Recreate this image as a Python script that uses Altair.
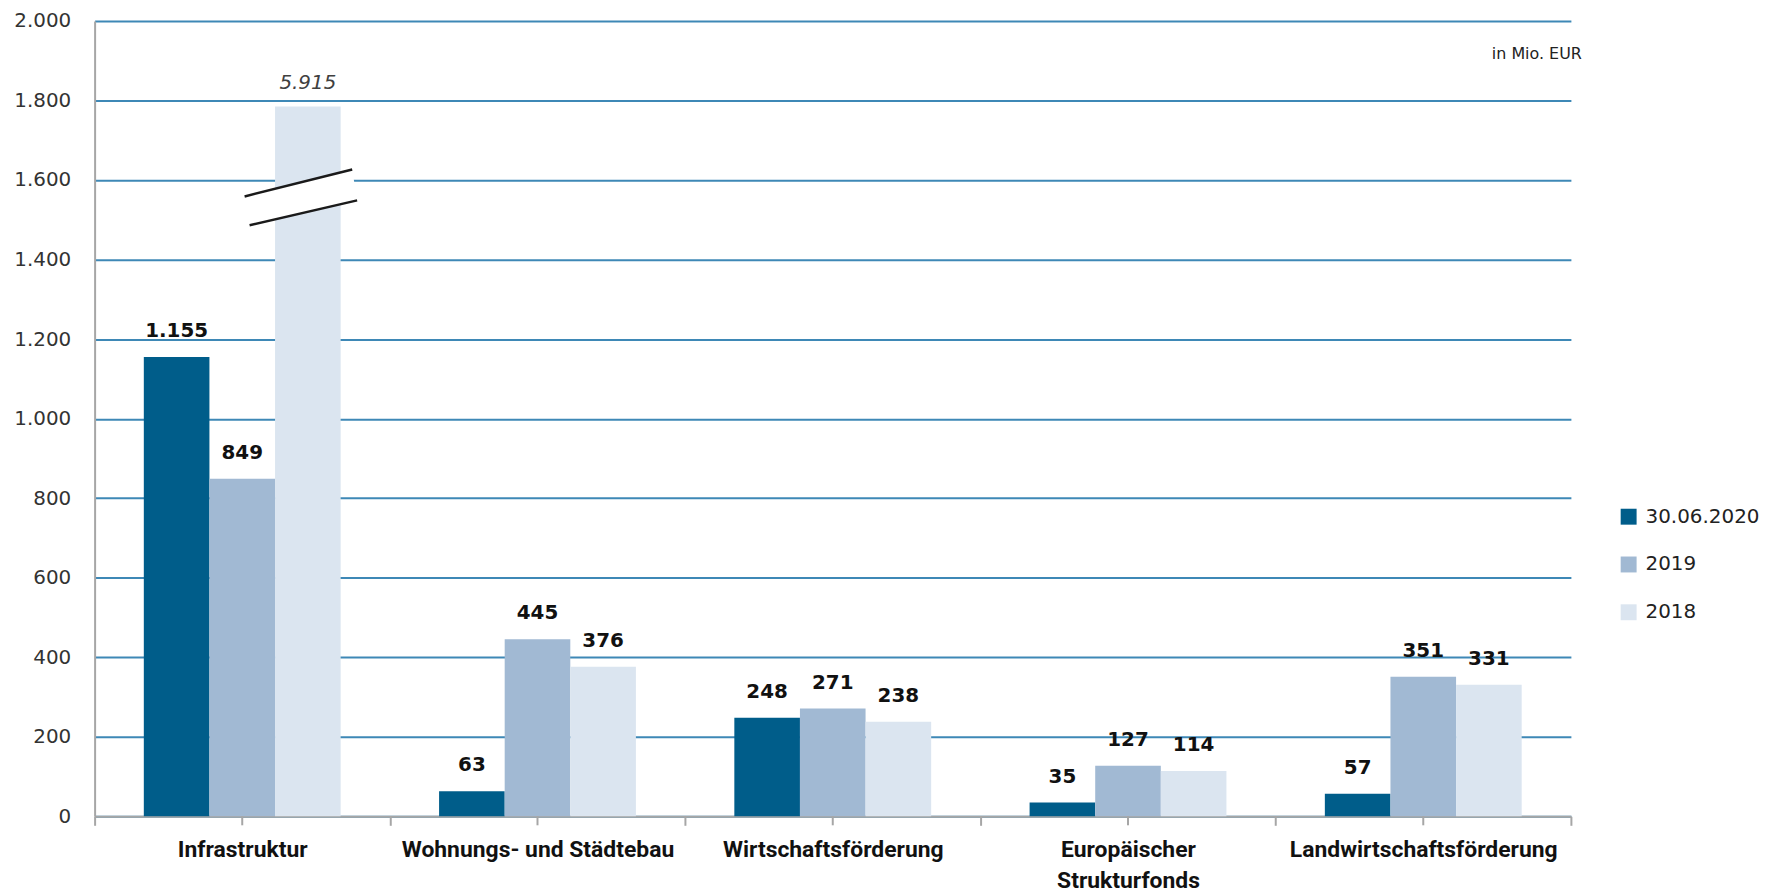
import altair as alt
import pandas as pd

categories = ["Infrastruktur", "Wohnungs- und Städtebau", "Wirtschaftsförderung",
              "Europäischer\nStrukturfonds", "Landwirtschaftsförderung"]
series = ["30.06.2020", "2019", "2018"]
v2020 = [1155, 63, 248, 35, 57]
v2019 = [849, 445, 271, 127, 351]
v2018 = [5915, 376, 238, 114, 331]
colors = ["#005D8A", "#A1B9D3", "#DBE5F0"]
y_ticks = [0, 200, 400, 600, 800, 1000, 1200, 1400, 1600, 1800, 2000]
CAP = 1785          # height at which an off-scale bar is cut
BREAK_AT = 1555     # where the axis-break symbol is drawn
UNIT = "in Mio. EUR"

rows = []
for s, vals in zip(series, [v2020, v2019, v2018]):
    for c, v in zip(categories, vals):
        rows.append({
            "cat": c, "series": s, "value": v,
            "shown": min(v, CAP),
            "capped": v > CAP,
            "label": f"{v:,}".replace(",", "."),
        })
df = pd.DataFrame(rows)

W, H = 1483, 799
FONT = "DejaVu Sans"

x_scale = alt.Scale(paddingInner=0, paddingOuter=0)
x_enc = alt.X("cat:N", sort=categories, title=None, scale=x_scale,
              axis=alt.Axis(labelExpr="split(datum.label, '\\n')", labelAngle=0,
                            labelFont="Roboto", labelFontWeight="bold", labelLimit=0,
                            labelFontSize=23, labelColor="#111111", labelLineHeight=31,
                            labelPadding=13, tickBand="extent", tickSize=9,
                            tickColor="#A6A6A6", tickWidth=2, domainColor="#A6A6A6",
                            domainWidth=2, grid=False))
xo_enc = alt.XOffset("series:N", sort=series,
                     scale=alt.Scale(paddingInner=0, paddingOuter=0.75))

base = alt.Chart(df)

bars = base.mark_bar().encode(
    x=x_enc,
    xOffset=xo_enc,
    y=alt.Y("shown:Q", stack=None, title=None,
            scale=alt.Scale(domain=[0, 2000], nice=False),
            axis=alt.Axis(values=y_ticks, ticks=False,
                          labelExpr="replace(format(datum.value, ','), ',', '.')",
                          labelFont=FONT, labelFontSize=20, labelColor="#333333",
                          labelPadding=24, gridColor="#3E88B6", gridWidth=2,
                          domainColor="#A6A6A6", domainWidth=2)),
    color=alt.Color("series:N", sort=series,
                    scale=alt.Scale(domain=series, range=colors),
                    legend=alt.Legend(title=None, orient="none", legendX=1531, legendY=488,
                                      symbolType="square", symbolSize=256,
                                      symbolStrokeWidth=0, labelFont=FONT,
                                      labelFontSize=20, labelColor="#222222",
                                      labelOffset=7, rowPadding=28)),
)

labels = base.transform_filter("!datum.capped").mark_text(
    font=FONT, fontSize=20, fontWeight="bold", color="#111111",
    baseline="middle", dy=-26
).encode(x=alt.X("cat:N", sort=categories), xOffset=xo_enc,
         y="shown:Q", text="label:N")

capped_labels = base.transform_filter("datum.capped").mark_text(
    font=FONT, fontSize=20, fontStyle="italic", color="#404040",
    baseline="middle", dy=-24
).encode(x=alt.X("cat:N", sort=categories), xOffset=xo_enc,
         y="shown:Q", text="label:N")

break_fill = base.transform_filter("datum.capped").mark_point(
    shape="M-1.155,-0.027L0.81,-0.52L0.9,0.045L-1.064,0.5Z", size=12100, filled=True,
    fill="white", strokeWidth=0, opacity=1
).encode(x=alt.X("cat:N", sort=categories), xOffset=xo_enc, y=alt.datum(BREAK_AT))

break_lines = base.transform_filter("datum.capped").mark_point(
    shape="M-1.155,-0.027L0.81,-0.52M-1.064,0.5L0.9,0.045", size=12100, filled=False,
    stroke="#1A1A1A", strokeWidth=2.5, opacity=1
).encode(x=alt.X("cat:N", sort=categories), xOffset=xo_enc, y=alt.datum(BREAK_AT))

center_ticks = alt.Chart(pd.DataFrame({"cat": categories})).mark_rule(
    color="#A6A6A6", strokeWidth=2
).encode(x=alt.X("cat:N", sort=categories), y=alt.value(H), y2=alt.value(H + 9))

unit = alt.Chart(pd.DataFrame({"t": [UNIT]})).mark_text(
    font=FONT, fontSize=16, color="#222222", align="right", baseline="middle"
).encode(x=alt.value(W + 11), y=alt.value(33), text="t:N")

chart = alt.layer(bars, labels, capped_labels, break_fill, break_lines,
                  center_ticks, unit).properties(
    width=W, height=H, autosize="none", background="white",
    padding={"left": 87, "top": 11, "right": 199, "bottom": 75},
).configure_view(strokeWidth=0, stroke="transparent")

chart.save("out.html", embed_options={"renderer": "svg", "actions": False})
